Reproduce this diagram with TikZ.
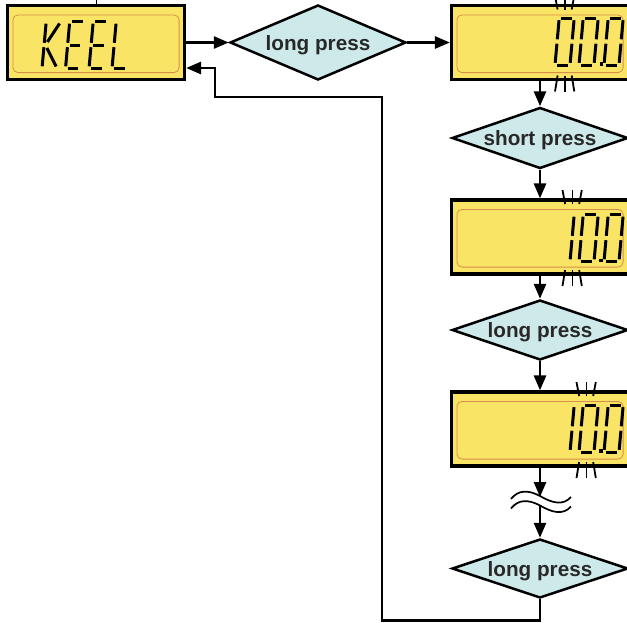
\documentclass[tikz,border=0pt]{standalone}
\usepackage{fontspec}
\setmainfont{Liberation Sans}
\usetikzlibrary{shapes.geometric,arrows.meta}
\definecolor{lcdyellow}{RGB}{249,228,102}
\definecolor{lcdrim}{RGB}{214,142,72}
\definecolor{diafill}{RGB}{205,233,234}
\definecolor{txt}{RGB}{40,40,40}
\tikzset{
 lcdbox/.style={draw=black, line width=3.2pt, fill=lcdyellow, minimum width=177pt, minimum height=74pt, inner sep=0pt},
 rim/.style={draw=lcdrim, line width=0.8pt, rounded corners=5pt},
 dia/.style={diamond, draw=black, line width=2.5pt, fill=diafill, inner sep=0pt, aspect=3, minimum width=176pt, minimum height=60pt, text=txt, text depth=0pt, font=\bfseries\fontsize{20.7}{24}\selectfont},
 conn/.style={line width=2.8pt, -{Triangle[length=15pt,width=12pt]}},
 seg/.style={line width=3pt, line cap=butt},
 blink/.style={line width=1.8pt},
 wave/.style={line width=1.7pt},
}
\newcommand\lcdseg[1]{%
 \if a#1\draw[seg] (2.2,47)--(12.8,47);\fi
 \if b#1\draw[seg] (15,44.8)--(15,25.7);\fi
 \if c#1\draw[seg] (15,21.3)--(15,2.2);\fi
 \if d#1\draw[seg] (2.2,0)--(12.8,0);\fi
 \if e#1\draw[seg] (0,2.2)--(0,21.3);\fi
 \if f#1\draw[seg] (0,25.7)--(0,44.8);\fi
 \if g#1\draw[seg] (2.2,23.5)--(12.8,23.5);\fi
 \if u#1\draw[seg] (3,26.5)--(13.5,45);\fi
 \if l#1\draw[seg] (3,20.5)--(14,2);\fi
}
\newcommand\lcddigit[3]{\begin{scope}[shift={(#1,#2)},x=1pt,y={(0.09pt,1pt)}]\foreach \s in {#3}{\lcdseg{\s}}\end{scope}}
\newcommand\blinkmarks[3]{%
 \draw[blink] (#1-7.4,#2+4) -- (#1-10,#2-10);
 \draw[blink] (#1,#2+4) -- (#1,#2-10);
 \draw[blink] (#1+6.7,#2+4) -- (#1+9.3,#2-10);
 \draw[blink] (#1-7.4,#3-4) -- (#1-10,#3+12);
 \draw[blink] (#1,#3-4) -- (#1,#3+12);
 \draw[blink] (#1+6.7,#3-4) -- (#1+9.3,#3+12);
}
\newcommand\rimof[1]{\draw[rim] ([xshift=7pt,yshift=-11pt]#1.north west) rectangle ([xshift=-7pt,yshift=8.5pt]#1.south east);}
\begin{document}
\begin{tikzpicture}[x=1pt,y=-1pt]
\useasboundingbox (0,0) rectangle (627,622);
\clip (0,0) rectangle (627,622);
\fill[white] (0,0) rectangle (627,622);

% LCD boxes
\node[lcdbox] (keel) at (96,42.5) {};
\node[lcdbox] (b2) at (540,42.5) {};
\node[lcdbox] (b3) at (540,237) {};
\node[lcdbox] (b4) at (540,429) {};
\rimof{keel}\rimof{b2}\rimof{b3}\rimof{b4}

% diamonds
\node[dia, minimum height=75pt] (d1) at (318,42.5) {long press};
\node[dia, minimum height=61pt] (d2) at (540,138) {short press};
\node[dia] (d3) at (540,330) {long press};
\node[dia, minimum height=59pt] (d4) at (540,568.5) {long press};

% KEEL
\lcddigit{42}{68.5}{e,f,u,l}
\lcddigit{65.5}{68.5}{a,d,e,f,g}
\lcddigit{89}{68.5}{a,d,e,f,g}
\lcddigit{112}{68.5}{d,e,f}

% 00.0
\lcddigit{555}{65}{a,b,c,d,e,f}
\lcddigit{579}{65}{a,b,c,d,e,f}
\fill (599.5,62) rectangle (603,65.5);
\lcddigit{604}{65}{a,b,c,d,e,f}

% 10.0
\lcddigit{555}{261.5}{b,c}
\lcddigit{579}{261.5}{a,b,c,d,e,f}
\fill (599,258.5) rectangle (602.5,262);
\lcddigit{604}{261.5}{a,b,c,d,e,f}

% 10.0
\lcddigit{555}{452}{b,c}
\lcddigit{579}{452}{a,b,c,d,e,f}
\fill (599,449) rectangle (602.5,452.5);
\lcddigit{604}{452}{a,b,c,d,e,f}

% blink marks
\blinkmarks{565}{5.5}{79.5}
\blinkmarks{572.5}{200}{274}
\blinkmarks{586.5}{392}{466}

% tick above KEEL
\coordinate (tick) at (96,0);
\draw[line width=1pt] (keel.north) -- (tick);

% wave break
\draw[wave] (511,499) .. controls (518,490) and (528,489.5) .. (540,496) .. controls (552,503) and (563,506) .. (571,497);
\draw[wave] (511,508.5) .. controls (518,499.5) and (528,499) .. (540,505.5) .. controls (552,512.5) and (563,515.5) .. (571,506.5);

% connectors
\draw[conn] (keel.east) -- (d1.west);
\draw[conn] (d1.east) -- (b2.west);
\draw[conn] (b2.south) -- (d2.north);
\draw[conn] (d2.south) -- (b3.north);
\draw[conn] (b3.south) -- (d3.north);
\draw[conn] (d3.south) -- (b4.north);
\coordinate (w1) at (540,497);
\coordinate (w2) at (540,506);
\draw[conn] (b4.south) -- (w1);
\draw[conn] (w2) -- (d4.north);
\coordinate (rb) at (382,620.5);
\coordinate (rt) at (382,97);
\coordinate (rk) at (215,68);
\draw[conn] (d4.south) |- (rb) -- (rt) -| (rk) -- (keel.east |- rk);
\end{tikzpicture}
\end{document}
